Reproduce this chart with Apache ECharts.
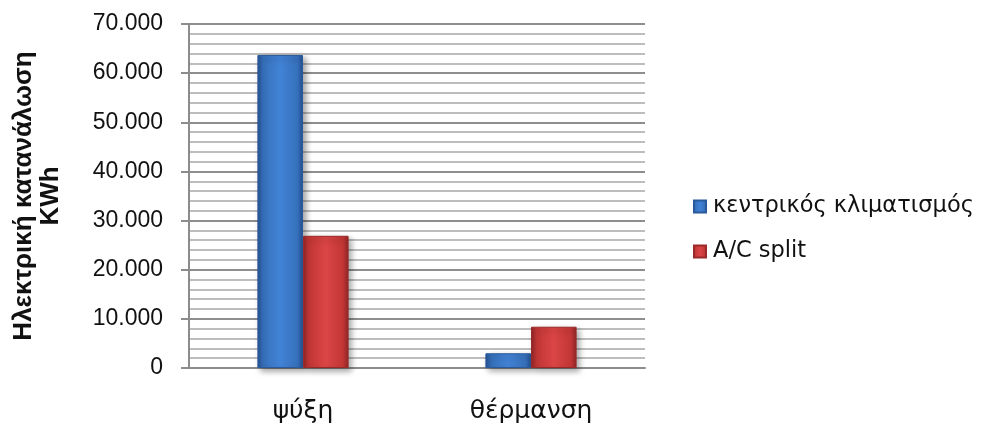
<!DOCTYPE html>
<html>
<head>
<meta charset="utf-8">
<style>
  html, body { margin: 0; padding: 0; background: #ffffff; }
  #chart { width: 989px; height: 426px; }
</style>
<script src="https://cdn.jsdelivr.net/npm/echarts@6/dist/echarts.min.js"></script>
</head>
<body>
<div id="chart"></div>
<script>
// Electricity consumption (kWh) by use, central A/C vs split units
const categories = ['ψύξη', 'θέρμανση'];
const centralValues = [63700, 3000];
const splitValues = [26900, 8400];
const seriesNames = ['κεντρικός κλιματισμός', 'A/C split'];
const yAxisTitle = 'Ηλεκτρική κατανάλωση\nKWh';

function thousands(v) {
  return String(v).replace(/\B(?=(\d{3})+(?!\d))/g, '.');
}

function barFill(edge, mid, light) {
  return new echarts.graphic.LinearGradient(0, 0, 1, 0, [
    { offset: 0, color: edge },
    { offset: 0.12, color: mid },
    { offset: 0.5, color: light },
    { offset: 0.88, color: mid },
    { offset: 1, color: edge }
  ]);
}

const chart = echarts.init(document.getElementById('chart'));
const labelFont = '"DejaVu Sans", sans-serif';

chart.setOption({
  animation: false,
  grid: { left: 189, right: 344, top: 24, bottom: 58, containLabel: false },
  legend: {
    orient: 'vertical',
    left: 688,
    top: 190,
    icon: 'rect',
    itemWidth: 12,
    itemHeight: 12,
    itemGap: 22,
    textStyle: { fontFamily: labelFont, fontSize: 22.5, color: '#111', padding: [0, 0, 0, 2] },
    data: seriesNames
  },
  xAxis: {
    type: 'category',
    data: categories,
    axisLine: { show: true, lineStyle: { color: '#8c8c8c', width: 2 } },
    axisTick: { show: false },
    axisLabel: { fontFamily: labelFont, fontSize: 25, color: '#111', margin: 31 }
  },
  yAxis: {
    type: 'value',
    min: 0,
    max: 70000,
    interval: 10000,
    name: yAxisTitle,
    nameLocation: 'middle',
    nameRotate: 90,
    nameGap: 125,
    nameTextStyle: {
      fontFamily: '"Liberation Sans", Arial, sans-serif',
      fontWeight: 'bold',
      fontSize: 26,
      color: '#111',
      lineHeight: 27
    },
    axisLine: { show: true, lineStyle: { color: '#8c8c8c', width: 2 } },
    axisTick: { show: true, length: 8, lineStyle: { color: '#8c8c8c', width: 2 } },
    axisLabel: {
      fontFamily: '"Liberation Sans", Arial, sans-serif',
      fontSize: 23,
      color: '#111',
      margin: 26,
      formatter: thousands
    },
    splitLine: { show: true, lineStyle: { color: '#8e8e8e', width: 2 } },
    minorTick: { show: false, splitNumber: 5 },
    minorSplitLine: { show: true, lineStyle: { color: '#bdbdbd', width: 2 } }
  },
  series: [
    {
      name: seriesNames[0],
      type: 'bar',
      data: centralValues,
      barGap: '0%',
      barCategoryGap: '60%',
      itemStyle: {
        color: barFill('#254f8e', '#3670bb', '#4283d6'),
        borderColor: '#2a5a9c',
        borderWidth: 1,
        shadowColor: 'rgba(0,0,0,0.35)',
        shadowBlur: 6,
        shadowOffsetX: 3,
        shadowOffsetY: 3
      }
    },
    {
      name: seriesNames[1],
      type: 'bar',
      data: splitValues,
      itemStyle: {
        color: barFill('#8e2424', '#c23636', '#db4545'),
        borderColor: '#9a2a2a',
        borderWidth: 1,
        shadowColor: 'rgba(0,0,0,0.35)',
        shadowBlur: 6,
        shadowOffsetX: 3,
        shadowOffsetY: 3
      }
    }
  ]
});
</script>
</body>
</html>
